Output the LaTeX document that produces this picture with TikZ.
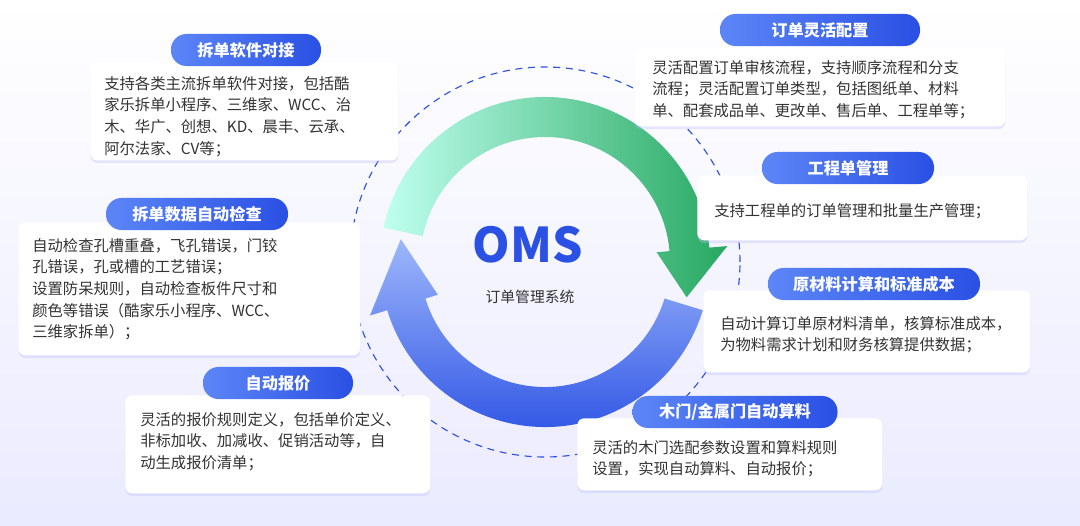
\documentclass[tikz,border=0pt]{standalone}
\usepackage{fontspec}
\setmainfont{Noto Sans CJK SC}
\usetikzlibrary{calc,shadows}
\definecolor{bluedk}{HTML}{2A50E4}
\definecolor{bluelt}{HTML}{5C86F7}
\definecolor{txt}{HTML}{333333}
\tikzset{
  card/.style={draw=none,fill=white,rounded corners=5pt,
    drop shadow={shadow xshift=0pt,shadow yshift=-2pt,fill=blue!25,opacity=0.35}},
  pill/.style={rounded corners=11pt,left color=bluelt,right color=bluedk,text=white,
    font=\fontsize{11.5}{13}\selectfont\bfseries,minimum height=0.8cm,inner sep=0pt},
  body/.style={anchor=north west,align=left,text=txt,inner sep=0pt,
    font=\fontsize{10.9}{15.4}\selectfont}
}
\begin{document}
\begin{tikzpicture}[x=0.025cm,y=0.025cm]
\useasboundingbox (0,0) rectangle (1080,-526);
\shade[top color=white,bottom color=blue!8] (0,0) rectangle (1080,-526);
\coordinate (C) at (545,-262);
\draw[bluedk,thick,dash pattern=on 5pt off 4pt] (C) circle[radius=195];
% green arrow
\shade[left color=green!25!cyan!25,right color=green!55!cyan!60!black!85]
  ($(C)+(168:165)$) arc[start angle=168,end angle=5,radius=165]
  -- ($(C)+(5:183)$) -- ($(C)+(-14:146)$) -- ($(C)+(5:112)$) -- ($(C)+(5:125)$)
  arc[start angle=5,end angle=168,radius=125] -- cycle;
% blue arrow
\shade[top color=bluelt!60,bottom color=bluedk]
  ($(C)+(-17:165)$) arc[start angle=-17,end angle=-163,radius=165]
  -- ($(C)+(-163:183)$) -- ($(C)+(171:146)$) -- ($(C)+(-163:112)$) -- ($(C)+(-163:125)$)
  arc[start angle=-163,end angle=-17,radius=125] -- cycle;
\node[text=bluedk,font=\fontsize{34}{36}\selectfont\bfseries] (oms) at (528,-245) {OMS};
\node[text=txt,font=\fontsize{10.5}{12}\selectfont] (oms2) at (530,-297) {订单管理系统};
% cards
\node[card,minimum width=308*0.025cm,minimum height=98*0.025cm,anchor=north west] (c1) at (90,-62) {};
\node[pill,minimum width=150*0.025cm] (p1) at (246,-50) {拆单软件对接};
\node[body] (t1) at (104,-76) {支持各类主流拆单软件对接，包括酷\\家乐拆单小程序、三维家、WCC、治\\木、华广、创想、KD、晨丰、云承、\\阿尔法家、CV等；};

\node[card,minimum width=342*0.025cm,minimum height=133*0.025cm,anchor=north west] (c2) at (18,-222) {};
\node[pill,minimum width=182*0.025cm] (p2) at (197,-214) {拆单数据自动检查};
\node[body] (t2) at (32,-238) {自动检查孔槽重叠，飞孔错误，门铰\\孔错误，孔或槽的工艺错误；\\设置防呆规则，自动检查板件尺寸和\\颜色等错误（酷家乐小程序、WCC、\\三维家拆单）；};

\node[card,minimum width=305*0.025cm,minimum height=98*0.025cm,anchor=north west] (c3) at (125,-395) {};
\node[pill,minimum width=150*0.025cm] (p3) at (278,-383) {自动报价};
\node[body] (t3) at (140,-412) {灵活的报价规则定义，包括单价定义、\\非标加收、加减收、促销活动等，自\\动生成报价清单；};

\node[card,minimum width=371*0.025cm,minimum height=78*0.025cm,anchor=north west] (c4) at (634,-48) {};
\node[pill,minimum width=200*0.025cm] (p4) at (820,-30) {订单灵活配置};
\node[body] (t4) at (652,-60) {灵活配置订单审核流程，支持顺序流程和分支\\流程；灵活配置订单类型，包括图纸单、材料\\单、配套成品单、更改单、售后单、工程单等；};

\node[card,minimum width=330*0.025cm,minimum height=65*0.025cm,anchor=north west] (c5) at (697,-175) {};
\node[pill,minimum width=172*0.025cm] (p5) at (848,-168) {工程单管理};
\node[body] (t5) at (714,-203) {支持工程单的订单管理和批量生产管理；};

\node[card,minimum width=327*0.025cm,minimum height=82*0.025cm,anchor=north west] (c6) at (703,-290) {};
\node[pill,minimum width=212*0.025cm] (p6) at (874,-284) {原材料计算和标准成本};
\node[body] (t6) at (720,-316) {自动计算订单原材料清单，核算标准成本，\\为物料需求计划和财务核算提供数据；};

\node[card,minimum width=305*0.025cm,minimum height=72*0.025cm,anchor=north west] (c7) at (577,-418) {};
\node[pill,minimum width=205*0.025cm] (p7) at (735,-412) {木门/金属门自动算料};
\node[body] (t7) at (592,-440) {灵活的木门选配参数设置和算料规则\\设置，实现自动算料、自动报价；};
\end{tikzpicture}
\end{document}
